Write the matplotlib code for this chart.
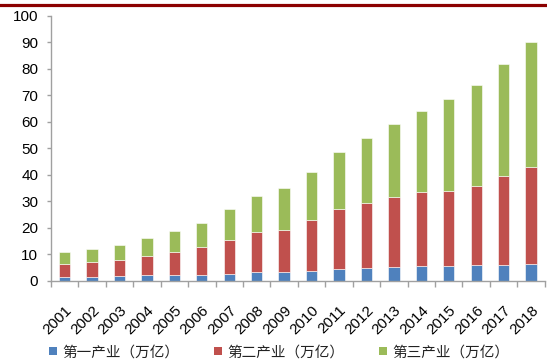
import matplotlib
matplotlib.use("Agg")
import matplotlib.pyplot as plt
from matplotlib.lines import Line2D
from matplotlib.patches import Patch
import numpy as np

plt.rcParams['font.family'] = ['Liberation Sans', 'Noto Sans CJK SC', 'DejaVu Sans']

years = [str(y) for y in range(2001, 2019)]
primary = [1.5, 1.6, 1.7, 2.1, 2.2, 2.4, 2.8, 3.2, 3.4, 3.8, 4.5, 4.9, 5.3, 5.6, 5.8, 6.1, 6.2, 6.5]
secondary = [4.9, 5.4, 6.2, 7.3, 8.8, 10.4, 12.6, 15.1, 16.0, 19.2, 22.5, 24.5, 26.3, 27.9, 28.3, 29.6, 33.3, 36.6]
tertiary = [4.6, 5.1, 5.8, 6.8, 7.7, 9.2, 11.6, 13.7, 15.5, 18.3, 21.8, 24.6, 27.7, 30.6, 34.5, 38.3, 42.5, 47.0]
series_names = ['第一产业（万亿）', '第二产业（万亿）', '第三产业（万亿）']
colors = ['#4F81BD', '#C0504D', '#9BBB59']

fig = plt.figure(figsize=(5.47, 3.63), dpi=100)
ax = fig.add_axes([0.093, 0.226, 0.903, 0.73])

x = np.arange(len(years))
w = 0.41
bottom = np.zeros(len(years))
for vals, c in zip([primary, secondary, tertiary], colors):
    ax.bar(x, vals, w, bottom=bottom, color=c, edgecolor='#ffffff', linewidth=0.4)
    bottom += np.array(vals)

ax.set_xlim(-0.5, len(years) - 0.5)
ax.set_ylim(0, 100)
ax.set_yticks(range(0, 101, 10))
ax.set_xticks(x)
ax.set_xticklabels(years, rotation=45, ha='right', rotation_mode='anchor', fontsize=11)
ax.set_xticks(np.arange(-0.5, len(years), 1), minor=True)
ax.tick_params(axis='x', which='major', length=0, pad=16)
ax.tick_params(axis='x', which='minor', length=4, color='#a0a0a0', width=1)
ax.tick_params(axis='y', length=3, color='#a0a0a0', width=1, labelsize=11, pad=6)

for side in ['top', 'right']:
    ax.spines[side].set_visible(False)
for side in ['left', 'bottom']:
    ax.spines[side].set_color('#a0a0a0')
    ax.spines[side].set_linewidth(1)

# Header rule across the top
fig.add_artist(Line2D([0, 1], [1 - 4.5 / 363, 1 - 4.5 / 363], color='#8B0000', linewidth=2.3,
                      transform=fig.transFigure))

handles = [Patch(facecolor=c, edgecolor='none') for c in colors]
leg = fig.legend(handles, series_names, loc='center', bbox_to_anchor=(0.51, 0.03),
                 ncol=3, frameon=False, handlelength=0.55, handleheight=0.55,
                 handletextpad=0.35, columnspacing=2.4,
                 prop={'family': ['Noto Sans CJK SC'], 'size': 10.5})
for t in leg.get_texts():
    t.set_color('#222222')

fig.savefig('out.png', dpi=100)
